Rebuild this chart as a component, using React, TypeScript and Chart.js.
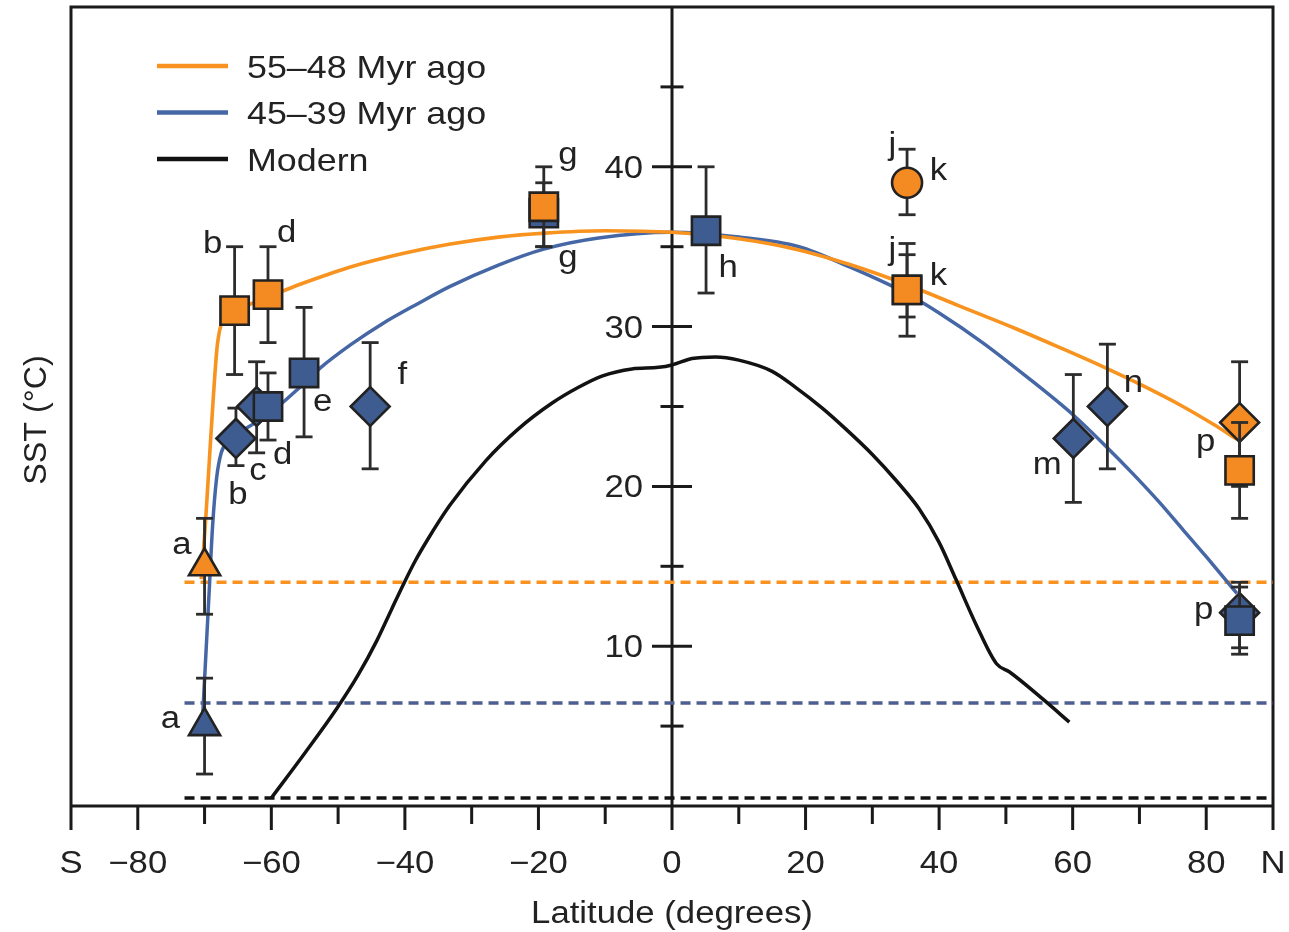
import React, { useEffect, useRef } from 'react';
import { Chart, registerables } from 'chart.js';

Chart.register(...registerables);

// ---------------- axes ----------------
const LAT_MIN = -90;
const LAT_MAX = 90;
const SST_MIN = 0;
const SST_MAX = 50;
const xTickValues = [-90, -80, -70, -60, -50, -40, -30, -20, -10, 0, 10, 20, 30, 40, 50, 60, 70, 80, 90];
const xTickLabels = ['S', '−80', '', '−60', '', '−40', '', '−20', '', '0', '', '20', '', '40', '', '60', '', '80', 'N'];
const yTickValues = [5, 10, 15, 20, 25, 30, 35, 40, 45];
const yTickLabels = ['', '10', '', '20', '', '30', '', '40', ''];
const xAxisTitle = 'Latitude (degrees)';
const yAxisTitle = 'SST (°C)';

// ---------------- legend ----------------
const legendLabels = ['55–48 Myr ago', '45–39 Myr ago', 'Modern'];

// ---------------- fitted curves ----------------
const orangeCurveLat = [-70.5, -69.9, -69.3, -68.7, -68.1, -67.4, -66.2, -63.5, -60.5, -58.4, -56, -52, -48.4, -40, -33.4, -26, -19, -10, 0, 10, 19, 26.5, 35, 43, 51.6, 58, 65, 70.5, 76.5, 81, 84.6];
const orangeCurveSst = [14.2, 17.5, 21.5, 25.5, 28.8, 30.3, 30.9, 31.35, 31.85, 32.2, 32.6, 33.2, 33.7, 34.6, 35.15, 35.6, 35.85, 36.0, 35.9, 35.5, 34.8, 33.9, 32.65, 31.3, 29.85, 28.7, 27.4, 26.3, 25.0, 23.9, 22.95];

const blueCurveLat = [-70.3, -69.8, -69.3, -68.8, -68.2, -67.5, -66.5, -65, -62, -59, -56, -52.7, -48, -43.3, -38, -33.3, -26, -19.2, -11, 0, 10, 19, 26.5, 35, 40, 46.5, 53, 60, 65, 69, 73, 76.5, 80, 83, 84.6];
const blueCurveSst = [5.5, 9.5, 13.5, 17.5, 20.5, 22.1, 22.8, 23.3, 24.1, 25.0, 26.1, 27.4, 28.9, 30.2, 31.45, 32.5, 33.85, 34.85, 35.55, 35.9, 35.6, 35.0, 33.75, 32.1, 30.85, 29.0, 26.9, 24.5, 22.5, 20.8, 19.0, 17.3, 15.6, 14.1, 13.3];

const modernLat = [-60, -55, -50.2, -47, -44.2, -42, -40.3, -38.5, -36.7, -33.3, -27.9, -23, -18, -14, -10.5, -6, -2, 0, 3, 6.5, 10, 15, 18.5, 22.5, 26, 30, 33.5, 37, 40, 42.5, 45.6, 48.6, 50.5, 55.5, 59.5];
const modernSst = [0.5, 3.3, 6.1, 8.2, 10.35, 12.3, 13.8, 15.3, 16.6, 18.8, 21.6, 23.6, 25.2, 26.2, 26.9, 27.35, 27.45, 27.6, 28.0, 28.1, 27.9, 27.2, 26.2, 24.9, 23.6, 22.0, 20.4, 18.6, 16.5, 14.2, 11.3, 8.9, 8.4, 6.7, 5.25];

// ---------------- dashed baselines ----------------
const baselineLat = [-73, 90];
const orangeBaselineSst = 14;
const blueBaselineSst = 6.45;
const modernBaselineSst = 0.5;

// ---------------- proxy data (55–48 Myr ago) ----------------
const orangeTriLat = [-70];
const orangeTriSst = [15];
const orangeTriHi = [18];
const orangeTriLo = [12];

const orangeSqLat = [-65.5, -60.5, -19.2, 35.2, 35.2, 85];
const orangeSqSst = [31, 32, 37.5, 32.3, 32.3, 21];
const orangeSqHi = [35, 35, 40, 35.2, 34.5, 24];
const orangeSqLo = [27, 29, 35, 29.4, 30.6, 18];

const orangeCircLat = [35.2];
const orangeCircSst = [39];
const orangeCircHi = [41.1];
const orangeCircLo = [37];

const orangeDiaLat = [85];
const orangeDiaSst = [24];
const orangeDiaHi = [27.8];
const orangeDiaLo = [20];

// ---------------- proxy data (45–39 Myr ago) ----------------
const blueTriLat = [-70];
const blueTriSst = [5];
const blueTriHi = [8];
const blueTriLo = [2];

const blueDiaLat = [-65.3, -62.2, -45.2, 60.1, 65.2, 85];
const blueDiaSst = [23, 25, 25, 23, 25, 12.1];
const blueDiaHi = [24.9, 27.8, 29, 27, 28.9, 14];
const blueDiaLo = [21.3, 22.1, 21.1, 19, 21.1, 9.9];

const blueSqLat = [-60.5, -55.1, -19.2, 5.1, 85];
const blueSqSst = [25, 27.1, 37.1, 36, 11.6];
const blueSqHi = [27.1, 31.2, 39, 40, 13.7];
const blueSqLo = [22.9, 23.1, 35, 32.1, 9.5];

// ---------------- site letters ----------------
const siteLabelText = ['a', 'a', 'b', 'd', 'b', 'c', 'd', 'e', 'f', 'g', 'g', 'h', 'j', 'k', 'j', 'k', 'm', 'n', 'p', 'p'];
const siteLabelLat = [-73.4, -75.1, -68.8, -57.7, -65.0, -62.0, -58.3, -52.3, -40.4, -15.6, -15.6, 8.4, 33.0, 39.9, 33.0, 39.9, 56.2, 69.1, 79.9, 79.6];
const siteLabelSst = [16.3, 5.41, 35.1, 35.8, 19.4, 20.9, 21.9, 25.2, 26.9, 40.7, 34.2, 33.6, 41.3, 39.7, 34.7, 33.1, 21.3, 26.4, 22.7, 12.2];

// ---------------- styles ----------------
const FONT = '"Liberation Sans", Arial, Helvetica, sans-serif';
const TEXT_COLOR = '#222222';
const AXIS_COLOR = '#1a1a1a';
const STRETCH = 1.12;
const ORANGE = '#F48A22';
const ORANGE_LINE = '#F7931E';
const BLUE = '#3F5C91';
const BLUE_LINE = '#4667A5';
const BLUE_DASH = '#4D5E92';
const BLACK = '#121212';
const MARKER_EDGE = '#222222';
const ERR_COLOR = '#2c2c2c';
const legendColors = [ORANGE_LINE, BLUE_LINE, BLACK];

const pts = (xs: number[], ys: number[]) => xs.map((x, i) => ({ x, y: ys[i] }));

function drawText(ctx: CanvasRenderingContext2D, text: string, x: number, y: number, align: CanvasTextAlign, size: number, sx = STRETCH) {
  ctx.save();
  ctx.translate(x, y);
  ctx.scale(sx, 1);
  ctx.font = `${size}px ${FONT}`;
  ctx.textAlign = align;
  ctx.textBaseline = 'alphabetic';
  ctx.fillStyle = TEXT_COLOR;
  ctx.fillText(text, 0, 0);
  ctx.restore();
}

function seg(ctx: CanvasRenderingContext2D, x1: number, y1: number, x2: number, y2: number) {
  ctx.beginPath();
  ctx.moveTo(x1, y1);
  ctx.lineTo(x2, y2);
  ctx.stroke();
}

const errorMap: Record<string, { lat: number[]; hi: number[]; lo: number[] }> = {
  orangeTri: { lat: orangeTriLat, hi: orangeTriHi, lo: orangeTriLo },
  orangeSq: { lat: orangeSqLat, hi: orangeSqHi, lo: orangeSqLo },
  orangeCirc: { lat: orangeCircLat, hi: orangeCircHi, lo: orangeCircLo },
  orangeDia: { lat: orangeDiaLat, hi: orangeDiaHi, lo: orangeDiaLo },
  blueTri: { lat: blueTriLat, hi: blueTriHi, lo: blueTriLo },
  blueDia: { lat: blueDiaLat, hi: blueDiaHi, lo: blueDiaLo },
  blueSq: { lat: blueSqLat, hi: blueSqHi, lo: blueSqLo },
};

const framePlugin = {
  id: 'frameAxes',
  beforeDatasetsDraw(chart: any) {
    const { ctx, chartArea: a } = chart;
    const xs = chart.scales.x;
    const ys = chart.scales.y;
    const x0 = xs.getPixelForValue(0);
    const yb = ys.getPixelForValue(SST_MIN);
    const longTick = yb + 24;
    ctx.save();
    ctx.strokeStyle = AXIS_COLOR;
    ctx.lineWidth = 3;
    ctx.lineCap = 'butt';
    ctx.beginPath();
    ctx.moveTo(a.left, longTick);
    ctx.lineTo(a.left, a.top);
    ctx.lineTo(a.right, a.top);
    ctx.lineTo(a.right, longTick);
    ctx.moveTo(a.left, yb);
    ctx.lineTo(a.right, yb);
    ctx.moveTo(x0, a.top);
    ctx.lineTo(x0, longTick);
    ctx.stroke();

    xTickValues.forEach((v, i) => {
      if (v === LAT_MIN || v === LAT_MAX || v === 0) return;
      const px = xs.getPixelForValue(v);
      const len = xTickLabels[i] ? 24 : 18;
      seg(ctx, px, yb, px, yb + len);
    });
    xTickValues.forEach((v, i) => {
      if (xTickLabels[i]) drawText(ctx, xTickLabels[i], xs.getPixelForValue(v), yb + 67, 'center', 31);
    });

    yTickValues.forEach((v, i) => {
      const py = ys.getPixelForValue(v);
      const half = yTickLabels[i] ? 20 : 11.5;
      ctx.strokeStyle = AXIS_COLOR;
      ctx.lineWidth = 3;
      seg(ctx, x0 - half, py, x0 + half, py);
      if (yTickLabels[i]) drawText(ctx, yTickLabels[i], x0 - 29, py + 11, 'right', 31);
    });

    drawText(ctx, xAxisTitle, x0, 923, 'center', 31);
    ctx.save();
    ctx.translate(46, 420);
    ctx.rotate(-Math.PI / 2);
    drawText(ctx, yAxisTitle, 0, 0, 'center', 31, 1.04);
    ctx.restore();

    legendLabels.forEach((t, i) => {
      const ly = 66 + i * 46.5;
      ctx.strokeStyle = legendColors[i];
      ctx.lineWidth = 4.5;
      seg(ctx, 157, ly, 228, ly);
      drawText(ctx, t, 247, ly + 11.5, 'left', 32);
    });
    ctx.restore();
  },
  beforeDatasetDraw(chart: any, args: any) {
    const ds = chart.data.datasets[args.index];
    const eb = errorMap[ds.label];
    if (!eb) return;
    const { ctx } = chart;
    const xs = chart.scales.x;
    const ys = chart.scales.y;
    ctx.save();
    ctx.strokeStyle = ERR_COLOR;
    ctx.lineWidth = 2.8;
    ctx.lineCap = 'butt';
    eb.lat.forEach((lat, i) => {
      const px = xs.getPixelForValue(lat);
      const top = ys.getPixelForValue(eb.hi[i]);
      const bot = ys.getPixelForValue(eb.lo[i]);
      seg(ctx, px, top, px, bot);
      seg(ctx, px - 8.5, top, px + 8.5, top);
      seg(ctx, px - 8.5, bot, px + 8.5, bot);
    });
    ctx.restore();
  },
  afterDatasetsDraw(chart: any) {
    const { ctx } = chart;
    const xs = chart.scales.x;
    const ys = chart.scales.y;
    siteLabelText.forEach((t, i) => {
      drawText(ctx, t, xs.getPixelForValue(siteLabelLat[i]), ys.getPixelForValue(siteLabelSst[i]) + 8, 'center', 31);
    });
  },
};

const lineDs = (label: string, xs: number[], ys: number[], color: string, width: number, order: number, dash: number[] = []) => ({
  label,
  data: pts(xs, ys),
  showLine: true,
  borderColor: color,
  backgroundColor: color,
  borderWidth: width,
  borderDash: dash,
  borderCapStyle: 'butt',
  borderJoinStyle: 'round',
  pointRadius: 0,
  pointHoverRadius: 0,
  cubicInterpolationMode: 'monotone',
  fill: false,
  order,
});

const markerDs = (label: string, xs: number[], ys: number[], style: string, radius: number, fillColor: string, order: number) => ({
  label,
  data: pts(xs, ys),
  showLine: false,
  pointStyle: style,
  pointRadius: radius,
  pointHoverRadius: radius,
  pointBackgroundColor: fillColor,
  pointBorderColor: MARKER_EDGE,
  pointBorderWidth: 2.6,
  pointHoverBorderWidth: 2.6,
  order,
});

export default function App() {
  const canvasRef = useRef<HTMLCanvasElement | null>(null);

  useEffect(() => {
    if (!canvasRef.current) return;
    const datasets: any[] = [
      lineDs('orangeBase', baselineLat, [orangeBaselineSst, orangeBaselineSst], ORANGE_LINE, 3.5, 20, [10, 6]),
      lineDs('blueBase', baselineLat, [blueBaselineSst, blueBaselineSst], BLUE_DASH, 3.5, 19, [10, 6]),
      lineDs('modernBase', baselineLat, [modernBaselineSst, modernBaselineSst], BLACK, 3.5, 18, [10, 6]),
      lineDs('Modern', modernLat, modernSst, BLACK, 3.5, 17),
      lineDs('45–39 Myr ago', blueCurveLat, blueCurveSst, BLUE_LINE, 3.5, 16),
      lineDs('55–48 Myr ago', orangeCurveLat, orangeCurveSst, ORANGE_LINE, 3.6, 15),
      markerDs('blueTri', blueTriLat, blueTriSst, 'triangle', 18, BLUE, 10),
      markerDs('blueDia', blueDiaLat, blueDiaSst, 'rectRot', 19.5, BLUE, 9),
      markerDs('blueSq', blueSqLat, blueSqSst, 'rect', 20, BLUE, 8),
      markerDs('orangeTri', orangeTriLat, orangeTriSst, 'triangle', 18, ORANGE, 7),
      markerDs('orangeDia', orangeDiaLat, orangeDiaSst, 'rectRot', 19.5, ORANGE, 6),
      markerDs('orangeSq', orangeSqLat, orangeSqSst, 'rect', 20, ORANGE, 5),
      markerDs('orangeCirc', orangeCircLat, orangeCircSst, 'circle', 15, ORANGE, 4),
    ];
    const chart = new Chart(canvasRef.current, {
      type: 'scatter',
      data: { datasets },
      options: {
        animation: false,
        responsive: true,
        maintainAspectRatio: false,
        devicePixelRatio: 1,
        layout: { autoPadding: false, padding: { left: 71, right: 16, top: 7, bottom: 126 } },
        scales: {
          x: { type: 'linear', min: LAT_MIN, max: LAT_MAX, display: false },
          y: { type: 'linear', min: SST_MIN, max: SST_MAX, display: false },
        },
        plugins: {
          legend: { display: false },
          tooltip: { enabled: false },
        },
        events: [],
      },
      plugins: [framePlugin],
    } as any);
    return () => chart.destroy();
  }, []);

  return (
    <div style={{ position: 'absolute', left: 0, top: 0, width: 1289, height: 932, background: '#ffffff' }}>
      <canvas ref={canvasRef} />
    </div>
  );
}
